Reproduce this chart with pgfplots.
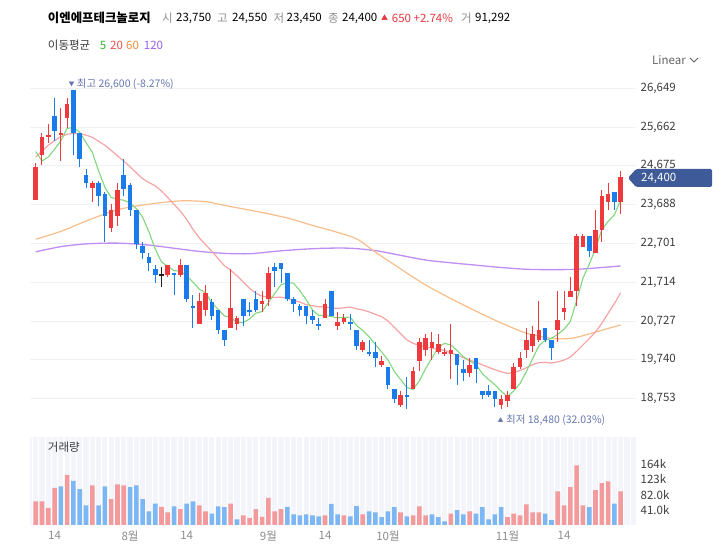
\documentclass[border=0pt]{standalone}
\usepackage{pgfplots}
\pgfplotsset{compat=1.18}
\usepackage{pgfplotstable}
\usepackage{fontspec}
\setmainfont{Noto Sans CJK KR}
\definecolor{upc}{HTML}{EF3A3D}
\definecolor{dnc}{HTML}{1A7BEA}
\definecolor{dojic}{HTML}{222222}
\definecolor{upv}{HTML}{F39A9D}
\definecolor{dnv}{HTML}{7DB7F3}
\definecolor{ma5}{HTML}{80D77C}
\definecolor{ma20}{HTML}{F6A3A3}
\definecolor{ma60}{HTML}{F8BD88}
\definecolor{ma120}{HTML}{BF8DF3}
\definecolor{gridc}{HTML}{EFF1F4}
\definecolor{tagc}{HTML}{3E5A98}
\definecolor{annc}{HTML}{6677AE}
\definecolor{tickc}{HTML}{3C3C3C}
\definecolor{xlabc}{HTML}{8C8C8C}
\definecolor{volbg}{HTML}{F3F5FA}
\definecolor{hgray}{HTML}{8E8E8E}
\definecolor{hred}{HTML}{E8383D}
\definecolor{l5}{HTML}{33B033}
\definecolor{l20}{HTML}{F04B4B}
\definecolor{l60}{HTML}{F08C3C}
\definecolor{l120}{HTML}{9B5CF0}

\newcommand{\fs}[1]{\fontsize{#1bp}{#1bp}\selectfont}

% rising candles (close above open): i O H L C
\pgfplotstableread{
i O H L C
0 23800 24750 23800 24650
1 24950 25500 24700 25400
2 25400 25750 25250 25450
4 25450 26150 24800 25500
5 25900 26400 25650 26250
9 24100 24300 23750 24250
12 23100 23700 23000 23550
13 23400 24250 23150 24050
21 21900 22150 21850 22150
23 21900 22300 21850 22150
26 20650 21450 20650 21250
27 21000 21650 20850 21450
31 20550 22050 20550 21050
32 20650 20850 20500 20800
36 21150 21500 20950 21250
37 21300 22100 21100 21950
46 20800 21300 20800 21150
48 20600 20950 20500 20700
49 20700 20900 20650 20800
52 20000 20250 19950 20200
55 19600 19850 19550 19700
58 18600 18950 18550 18850
60 19000 19550 19000 19450
61 19700 20300 19450 20200
62 20000 20400 19850 20300
63 20050 20450 19750 20200
64 19950 20400 19900 20150
65 19900 20050 19850 19950
66 19900 20650 19250 20000
69 19400 19800 19300 19600
74 18600 18850 18480 18750
75 18700 18950 18550 18850
76 19000 19650 19000 19550
77 19550 19950 19500 19800
78 20000 20550 19800 20250
79 20100 20600 19950 20400
80 20250 21250 20200 20500
83 20500 21500 20200 20750
84 20950 21500 20750 21050
85 21350 21850 21350 21500
86 21500 22950 21100 22900
87 22600 22950 22600 22900
89 22450 23550 22450 23050
90 23050 24050 22750 23900
91 23750 24250 23550 23950
93 23750 24550 23450 24400
}\upt

% falling candles
\pgfplotstableread{
i O H L C
3 25950 26400 25300 25550
6 26600 26600 24950 25500
7 25500 25500 24650 24850
8 24450 24600 24100 24250
10 24250 24300 23650 23900
11 23950 24000 22750 23400
14 24450 24850 23900 24100
15 24200 24250 23400 23550
16 23550 23550 22550 22700
17 22650 22750 22300 22450
18 22350 22450 22000 22200
19 22050 22150 21700 21900
22 21950 21950 21400 21900
24 22150 22150 21200 21300
25 21100 21400 20550 21050
28 21200 21300 20750 20850
29 21000 21000 20400 20500
30 20500 20500 20100 20250
33 21300 21300 20600 20850
34 21000 21200 20850 20950
35 21300 21500 20950 21000
38 22100 22200 21600 22000
39 22200 22200 21700 22050
40 21950 21950 21250 21300
41 21300 21350 20950 21150
42 21100 21150 20850 21000
43 21100 21100 20650 20850
44 20850 21000 20650 20750
45 20650 20800 20500 20600
47 21500 21500 20850 20850
50 20700 20900 20500 20650
51 20500 20500 20000 20100
53 19950 20250 19850 19900
54 19950 20200 19550 19800
56 19550 19550 19000 19100
57 19000 19000 18650 18750
59 18850 19300 18500 18800
67 19900 19900 19100 19600
68 19500 19750 19200 19400
70 19800 19800 19150 19500
71 18950 18950 18750 18850
72 18950 19100 18800 18850
73 18950 18950 18550 18750
81 20550 20550 20200 20250
82 20250 20250 19750 20050
88 22900 22900 22350 22500
92 24000 24000 23550 23750
}\dnt

% unchanged (open = close)
\pgfplotstableread{
i O H L C
20 21900 22100 21600 21900
}\djt

% volume in thousands, bars drawn in the up colour
\pgfplotstableread{
i V
0 64
1 64
2 46
3 100
5 135
9 107
12 70
13 110
14 107
20 49
21 34
23 43
26 53
27 37
31 58
33 26
34 19
35 43
36 22
37 73
38 37
39 43
46 26
49 26
52 29
58 34
60 26
61 50
62 26
66 31
69 37
75 21
76 31
77 26
78 56
79 34
80 34
83 91
84 53
85 102
86 161
87 53
89 94
90 113
91 118
93 91
}\volup

% volume in thousands, bars drawn in the down colour
\pgfplotstableread{
i V
4 104
6 119
7 97
8 53
10 53
11 104
15 102
16 107
17 70
18 37
19 58
22 50
24 58
25 64
28 31
29 50
30 48
32 15
40 49
41 29
42 26
43 29
44 26
45 23
47 57
48 29
50 23
51 51
53 37
54 34
55 21
56 37
57 48
59 23
63 29
64 21
65 10
67 40
68 29
70 31
71 48
72 15
73 29
74 48
81 31
82 13
88 48
92 58
}\voldn

\newcommand{\candles}[2]{%
  \addplot[color=#2, mark=none, draw opacity=0, forget plot,
    error bars/.cd, y dir=both, y explicit, error mark=none,
    error bar style={color=#2, draw opacity=1, line width=1bp}]
    table[x=i, y expr={(\thisrow{H}+\thisrow{L})/2}, y error expr={(\thisrow{H}-\thisrow{L})/2}] {#1};
  \addplot[color=#2, mark=none, draw opacity=0, forget plot,
    error bars/.cd, y dir=both, y explicit, error mark=none,
    error bar style={color=#2, draw opacity=1, line width=4.6bp}]
    table[x=i, y expr={(\thisrow{O}+\thisrow{C})/2}, y error expr={max(abs(\thisrow{C}-\thisrow{O})/2,16)}] {#1};
}

\begin{document}
\begin{tikzpicture}[x=1bp,y=1bp]
\path[use as bounding box] (0,0) rectangle (727,554);

% ---------- price panel ----------
\begin{axis}[
  at={(30bp,129bp)}, anchor=south west,
  width=606bp, height=353bp, scale only axis,
  xmin=-0.906, xmax=95.44, ymin=18084, ymax=27064,
  axis line style={draw=none}, major tick length=0pt,
  xtick=\empty, scaled y ticks=false,
  ytick={18753,19740,20727,21714,22701,23688,24675,25662,26649},
  yticklabels={{18,753},{19,740},{20,727},{21,714},{22,701},{23,688},{24,675},{25,662},{26,649}},
  yticklabel pos=right,
  yticklabel style={anchor=west, inner sep=0pt, xshift=4.5bp, font=\fs{11.5}, text=tickc},
  ymajorgrids, grid style={gridc, line width=0.8bp},
]
\addplot[ma120, line width=1.3bp, smooth, tension=0.5] coordinates {
(0,22490) (4,22620) (8,22690) (13,22710) (18,22660) (22,22580) (26,22500) (30,22450) (34,22440) (38,22500) (42,22550) (46,22580) (50,22580) (54,22520) (58,22400) (62,22280) (66,22210) (70,22150) (74,22090) (78,22045) (82,22035) (86,22045) (90,22090) (93,22130)};
\addplot[ma60, line width=1.2bp, smooth, tension=0.5] coordinates {
(0,22810) (4,23010) (8,23270) (13,23560) (18,23700) (23,23785) (27,23765) (30,23670) (35,23520) (40,23350) (44,23160) (47,23030) (51,22820) (54,22480) (56,22270) (59,21950) (62,21645) (66,21300) (70,20980) (74,20680) (78,20420) (82,20290) (85,20285) (88,20400) (91,20540) (93,20630)};
\addplot[ma20, line width=1.2bp] coordinates {
(0,24900) (1,25050) (2,25200) (3,25320) (4,25420) (5,25480) (6,25500) (7,25490) (8,25460) (9,25400) (10,25300) (11,25200) (12,25070) (13,24930) (14,24800) (15,24650) (16,24500) (17,24350) (18,24250) (19,24170) (20,24035) (21,23870) (22,23695) (23,23525) (24,23315) (25,23060) (26,22845) (27,22675) (28,22505) (29,22320) (30,22135) (31,22020) (32,21880) (33,21720) (34,21560) (35,21435) (36,21360) (37,21340) (38,21330) (39,21335) (40,21305) (41,21255) (42,21210) (43,21145) (44,21120) (45,21090) (46,21090) (47,21060) (48,21050) (49,21065) (50,21085) (51,21040) (52,21010) (53,20960) (54,20900) (55,20840) (56,20730) (57,20570) (58,20410) (59,20250) (60,20160) (61,20110) (62,20075) (63,20040) (64,20010) (65,19980) (66,19920) (67,19860) (68,19795) (69,19735) (70,19680) (71,19615) (72,19550) (73,19490) (74,19440) (75,19395) (76,19420) (77,19470) (78,19540) (79,19620) (80,19670) (81,19675) (82,19660) (83,19690) (84,19735) (85,19810) (86,19960) (87,20120) (88,20280) (89,20450) (90,20670) (91,20925) (92,21170) (93,21450)};
\addplot[ma5, line width=1.1bp] coordinates {
(0,25040) (1,24800) (2,24900) (3,25100) (4,25310) (5,25630) (6,25650) (7,25530) (8,25270) (9,25020) (10,24550) (11,24130) (12,23870) (13,23830) (14,23800) (15,23730) (16,23590) (17,23370) (18,23000) (19,22560) (20,22230) (21,22120) (22,22010) (23,22000) (24,21880) (25,21720) (26,21540) (27,21450) (28,21190) (29,21030) (30,20860) (31,20820) (32,20690) (33,20690) (34,20780) (35,20930) (36,20970) (37,21200) (38,21430) (39,21650) (40,21710) (41,21690) (42,21500) (43,21270) (44,21010) (45,20870) (46,20870) (47,20840) (48,20810) (49,20820) (50,20830) (51,20620) (52,20490) (53,20330) (54,20130) (55,19940) (56,19740) (57,19450) (58,19240) (59,19040) (60,18990) (61,19210) (62,19520) (63,19790) (64,20060) (65,20160) (66,20120) (67,19980) (68,19820) (69,19710) (70,19620) (71,19390) (72,19240) (73,19110) (74,18940) (75,18810) (76,18950) (77,19140) (78,19440) (79,19770) (80,20100) (81,20240) (82,20290) (83,20390) (84,20520) (85,20720) (86,21250) (87,21820) (88,22170) (89,22570) (90,23050) (91,23260) (92,23430) (93,23810)};
\candles{\upt}{upc}
\candles{\dnt}{dnc}
\candles{\djt}{dojic}
\end{axis}

% ---------- volume panel ----------
\begin{axis}[
  at={(30bp,29bp)}, anchor=south west,
  width=606bp, height=88bp, scale only axis,
  xmin=-0.906, xmax=95.44, ymin=0, ymax=237.6,
  axis line style={draw=none}, major tick length=0pt, minor tick length=0pt,
  axis background/.style={fill=volbg},
  xtick={3,15,24,37,46,56,75,84},
  xticklabels={14,8월,14,9월,14,10월,11월,14},
  minor xtick={-0.5,0.5,...,94.5},
  xminorgrids, minor grid style={white, line width=1.1bp},
  xticklabel style={anchor=north, inner sep=0pt, yshift=-6bp, font=\fs{11.5}, text=xlabc},
  ytick={41,82,123,164}, yticklabels={41.0k,82.0k,123k,164k},
  yticklabel pos=right,
  yticklabel style={anchor=west, inner sep=0pt, xshift=4.5bp, font=\fs{11.5}, text=tickc},
]
\addplot[ybar, bar width=4.6bp, bar shift=0pt, fill=upv, draw=none] table[x=i, y=V] {\volup};
\addplot[ybar, bar width=4.6bp, bar shift=0pt, fill=dnv, draw=none] table[x=i, y=V] {\voldn};
\end{axis}

% ---------- texts ----------
\node[anchor=west, inner sep=0pt, font=\fs{12.4}\bfseries, text=black] at (47.8,536) {이엔에프테크놀로지};
\node[anchor=west, inner sep=0pt, font=\fs{11.5}, text=hgray] at (162,536) {시};
\node[anchor=west, inner sep=0pt, font=\fs{11.5}] at (176,536) {23,750};
\node[anchor=west, inner sep=0pt, font=\fs{11.5}, text=hgray] at (217,536) {고};
\node[anchor=west, inner sep=0pt, font=\fs{11.5}] at (232,536) {24,550};
\node[anchor=west, inner sep=0pt, font=\fs{11.5}, text=hgray] at (273.5,536) {저};
\node[anchor=west, inner sep=0pt, font=\fs{11.5}] at (286.5,536) {23,450};
\node[anchor=west, inner sep=0pt, font=\fs{11.5}, text=hgray] at (328,536) {종};
\node[anchor=west, inner sep=0pt, font=\fs{11.5}] at (342,536) {24,400};
\node[anchor=west, inner sep=0pt, font=\fs{7}, text=hred] at (381,536) {▲};
\node[anchor=west, inner sep=0pt, font=\fs{11.5}, text=hred] at (391.7,536) {650 +2.74\%};
\node[anchor=west, inner sep=0pt, font=\fs{11.5}, text=hgray] at (461,536) {거};
\node[anchor=west, inner sep=0pt, font=\fs{11.5}] at (475,536) {91,292};

\node[anchor=west, inner sep=0pt, font=\fs{11.5}, text=tickc] at (47.8,509) {이동평균};
\node[anchor=west, inner sep=0pt, font=\fs{11.5}, text=l5] at (99.7,509) {5};
\node[anchor=west, inner sep=0pt, font=\fs{11.5}, text=l20] at (110,509) {20};
\node[anchor=west, inner sep=0pt, font=\fs{11.5}, text=l60] at (126,509) {60};
\node[anchor=west, inner sep=0pt, font=\fs{11.5}, text=l120] at (143.7,509) {120};

\node[anchor=west, inner sep=0pt, font=\fs{11.5}, text=tickc!80] at (652,494) {Linear};
\draw[tickc!80, line width=0.9bp] (690,496) -- (694,492) -- (698,496);

\node[anchor=west, inner sep=0pt, font=\fs{6}, text=annc] at (68.5,470) {▼};
\node[anchor=west, inner sep=0pt, font=\fs{10.5}, text=annc] at (76.7,470) {최고 26,600 (-8.27\%)};
\node[anchor=west, inner sep=0pt, font=\fs{6}, text=annc] at (497.5,134) {▲};
\node[anchor=west, inner sep=0pt, font=\fs{10.5}, text=annc] at (506,134) {최저 18,480 (32.03\%)};

\node[anchor=west, inner sep=0pt, font=\fs{11.5}, text=tickc] at (47.8,107) {거래량};

% price tag
\fill[tagc, rounded corners=1.5bp] (628,376) -- (636,385) -- (712,385) -- (712,367) -- (636,367) -- cycle;
\node[anchor=west, inner sep=0pt, font=\fs{11.5}, text=white] at (641,376) {24,400};
\end{tikzpicture}
\end{document}
